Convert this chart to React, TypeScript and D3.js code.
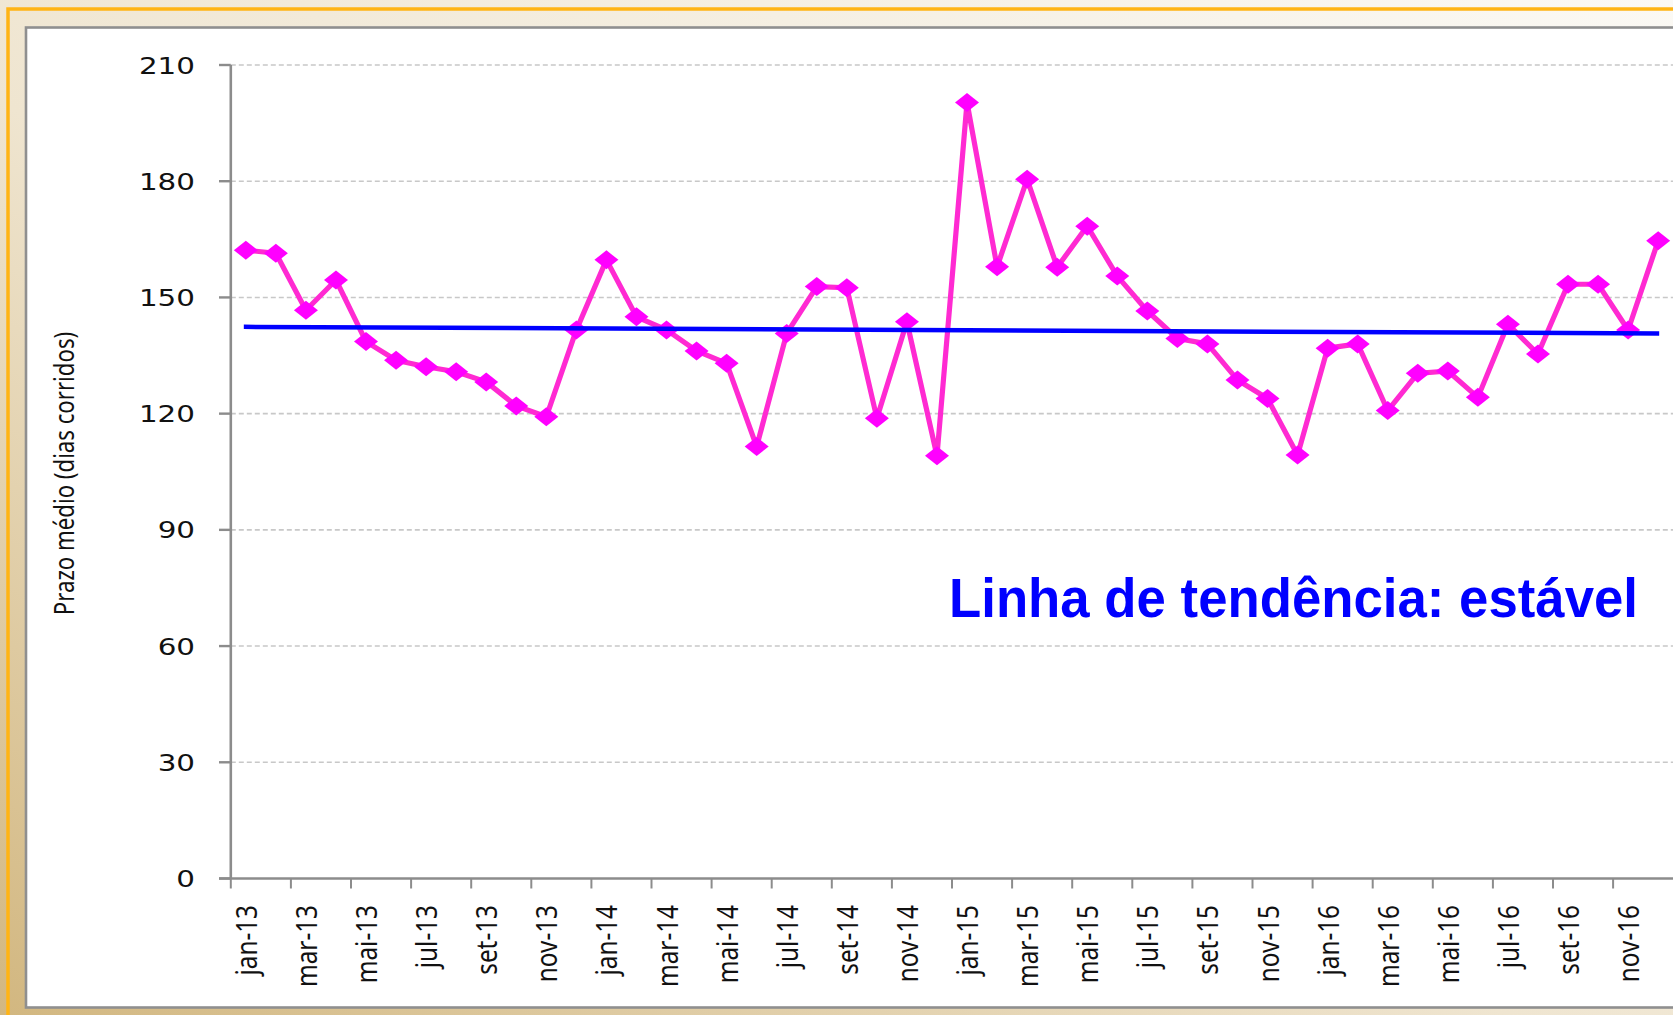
import React from "react";
import * as d3 from "d3";

const monthNames = ["jan", "fev", "mar", "abr", "mai", "jun", "jul", "ago", "set", "out", "nov", "dez"];
const years = ["13", "14", "15", "16"];
const categories: string[] = years.flatMap((yy) => monthNames.map((m) => `${m}-${yy}`));

const prazoMedio: number[] = [
  162.2, 161.4, 146.7, 154.5, 138.6, 133.8, 132.1, 130.8, 128.2, 122.0, 119.2, 141.6,
  159.7, 145.0, 141.6, 136.2, 133.0, 111.5, 140.7, 152.8, 152.5, 118.8, 143.7, 109.1,
  200.3, 157.9, 180.5, 157.8, 168.4, 155.5, 146.5, 139.4, 138.0, 128.7, 123.9, 109.3,
  136.9, 138.0, 120.8, 130.4, 131.0, 124.2, 143.1, 135.4, 153.4, 153.4, 141.6, 164.6,
];

const trendValues: number[] = [142.4, 140.7];
const yTicks: number[] = [0, 30, 60, 90, 120, 150, 180, 210];
const yTitle = "Prazo médio (dias corridos)";
const annotation = "Linha de tendência: estável";

export default function App() {
  const W = 1673;
  const H = 1015;
  const x0 = 230.8;
  const step = 30.05;
  const x = d3.scaleBand<string>().domain(categories).range([x0, x0 + step * categories.length]).padding(0);
  const y = d3.scaleLinear().domain([0, 210]).range([878.5, 65]);
  const cx = (c: string) => (x(c) as number) + x.bandwidth() / 2;

  const line = d3
    .line<number>()
    .x((_, i) => cx(categories[i]))
    .y((d) => y(d));

  const first = categories[0];
  const last = categories[categories.length - 1];

  const diamond = (px: number, py: number) =>
    `M${px},${py - 9.5}L${px + 12},${py}L${px},${py + 9.5}L${px - 12},${py}Z`;

  return (
    <svg width={W} height={H} style={{ position: "absolute", left: 0, top: 0 }}>
      <defs>
        <linearGradient id="bg" x1="0" y1="1" x2="1" y2="0">
          <stop offset="0" stopColor="#d2b780" />
          <stop offset="0.45" stopColor="#efe5d0" />
          <stop offset="1" stopColor="#fbf9f4" />
        </linearGradient>
      </defs>
      <rect x={0} y={0} width={W} height={H} fill="url(#bg)" />
      <rect x={8} y={9} width={W + 50} height={H + 50} fill="none" stroke="#ffb414" strokeWidth={3.5} />
      <rect x={26} y={27.5} width={W + 50} height={980} fill="#ffffff" stroke="#8f8f8f" strokeWidth={2.6} />

      {/* gridlines */}
      {yTicks.filter((t) => t > 0).map((t) => (
        <line key={"g" + t} x1={x0} x2={W} y1={y(t)} y2={y(t)} stroke="#c8c8c8" strokeWidth={1.6} strokeDasharray="5,3" />
      ))}

      {/* y axis */}
      <line x1={x0} x2={x0} y1={y(210)} y2={y(0)} stroke="#8c8c8c" strokeWidth={2.6} />
      {yTicks.map((t) => (
        <g key={"t" + t}>
          <line x1={219} x2={x0} y1={y(t)} y2={y(t)} stroke="#8c8c8c" strokeWidth={2.4} />
          <text
            transform={`translate(195,${y(t) + 8.6}) scale(1.25,1)`}
            textAnchor="end"
            fontFamily="DejaVu Sans, Verdana, sans-serif"
            fontSize={23.5}
            fill="#111"
          >
            {t}
          </text>
        </g>
      ))}

      {/* x axis */}
      <line x1={219} x2={W} y1={y(0)} y2={y(0)} stroke="#8c8c8c" strokeWidth={2.4} />
      {categories.map((c, i) =>
        i % 2 === 0 ? (
          <g key={"x" + c}>
            <line x1={x(c) as number} x2={x(c) as number} y1={y(0)} y2={y(0) + 10} stroke="#8c8c8c" strokeWidth={2} />
            <text
              transform={`translate(${cx(c) + 11},905) scale(1.22,1) rotate(-90)`}
              textAnchor="end"
              fontFamily="Noto Sans, sans-serif"
              fontSize={24.3}
              fill="#111"
            >
              {c}
            </text>
          </g>
        ) : null
      )}

      {/* y title */}
      <text
        transform={`translate(74,473.5) scale(1.22,1) rotate(-90)`}
        textAnchor="middle"
        fontFamily="Noto Sans, sans-serif"
        fontSize={22.2}
        fill="#111"
      >
        {yTitle}
      </text>

      {/* data line */}
      <path d={line(prazoMedio) || ""} fill="none" stroke="#ff2ad2" strokeWidth={5.2} strokeLinejoin="round" />
      {prazoMedio.map((v, i) => (
        <path key={"m" + i} d={diamond(cx(categories[i]), y(v))} fill="#ff00ff" />
      ))}

      {/* trend line */}
      <line
        x1={cx(first) - 2}
        x2={cx(last) + 1}
        y1={y(trendValues[0])}
        y2={y(trendValues[1])}
        stroke="#0000ff"
        strokeWidth={4.5}
      />

      {/* annotation */}
      <text
        x={949}
        y={616.7}
        fontFamily="Liberation Sans, Arial, sans-serif"
        fontWeight="bold"
        fontSize={55}
        textLength={689}
        lengthAdjust="spacingAndGlyphs"
        fill="#0000ff"
      >
        {annotation}
      </text>
    </svg>
  );
}
